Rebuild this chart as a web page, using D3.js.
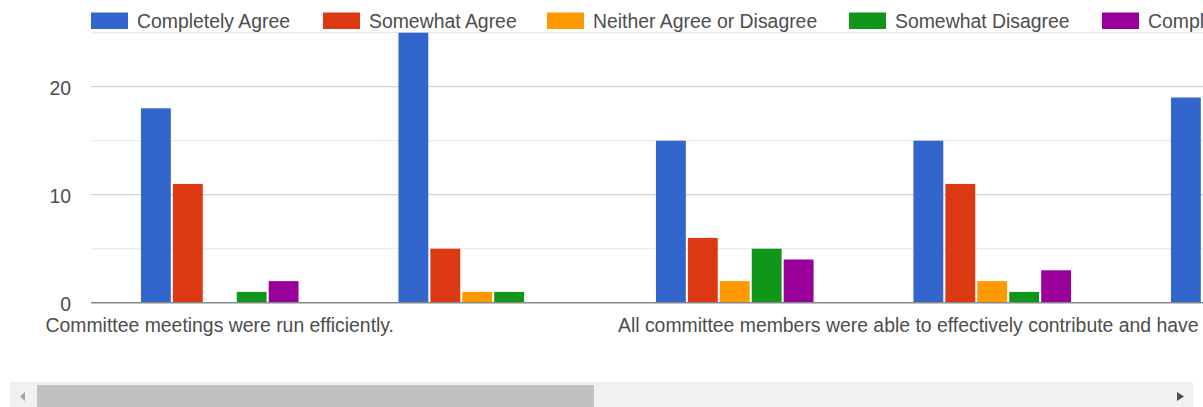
<!DOCTYPE html>
<html>
<head>
<meta charset="utf-8">
<script src="https://cdn.jsdelivr.net/npm/d3@7"></script>
<style>
  body { margin: 0; background: #fff; overflow: hidden; }
  svg { display: block; font-family: "Liberation Sans", Arial, Helvetica, sans-serif; }
</style>
</head>
<body>
<svg id="chart" width="1203" height="407"></svg>
<script>
// Survey statements (x categories); only every other one gets an axis label
const categories = [
  "Committee meetings were run efficiently.",
  "Statement 2",
  "All committee members were able to effectively contribute and have their voices heard.",
  "Statement 4",
  "Statement 5"
];
const labelledCategories = [categories[0], categories[2]];

// Response options and their colours
const seriesNames = ["Completely Agree", "Somewhat Agree", "Neither Agree or Disagree", "Somewhat Disagree", "Completely Disagree"];
const seriesColors = ["#3366cc", "#dc3912", "#ff9900", "#109618", "#990099"];

// Response counts per statement (null = scrolled out of view)
const completelyAgree    = [18, 25, 15, 15, 19];
const somewhatAgree      = [11, 5, 6, 11, null];
const neitherAgree       = [0, 1, 2, 2, null];
const somewhatDisagree   = [1, 1, 5, 1, null];
const completelyDisagree = [2, 0, 4, 3, null];

// Value axis
const yTickValues = [0, 10, 20];
const yMajorGrid = [10, 20];
const yMinorGrid = [5, 15, 25];

const seriesValues = [completelyAgree, somewhatAgree, neitherAgree, somewhatDisagree, completelyDisagree];

const FONT = 19.4;
const TEXT = "#4d4d4d";
const plotLeft = 91;
const groupStep = 257.5;

const svg = d3.select("#chart");

const x = d3.scaleBand()
  .domain(categories)
  .range([plotLeft, plotLeft + categories.length * groupStep])
  .paddingInner(0.388)
  .paddingOuter(0.194);

const xi = d3.scaleBand()
  .domain(seriesNames)
  .range([0, x.bandwidth()])
  .paddingInner(0.065);

const y = d3.scaleLinear().domain([0, 25]).range([302.7, 32.7]);

const color = d3.scaleOrdinal().domain(seriesNames).range(seriesColors);

// gridlines
const grid = svg.append("g");
grid.selectAll("line.minor").data(yMinorGrid).join("line")
  .attr("class", "minor")
  .attr("x1", plotLeft).attr("x2", 1203)
  .attr("y1", d => y(d)).attr("y2", d => y(d))
  .attr("stroke", "#ebebeb").attr("stroke-width", 1.2);
grid.selectAll("line.major").data(yMajorGrid).join("line")
  .attr("class", "major")
  .attr("x1", plotLeft).attr("x2", 1203)
  .attr("y1", d => y(d)).attr("y2", d => y(d))
  .attr("stroke", "#d4d4d4").attr("stroke-width", 1.2);

// bars
const rows = [];
categories.forEach((c, i) => {
  seriesNames.forEach((s, j) => {
    const v = seriesValues[j][i];
    if (v !== null && v > 0) rows.push({ c, s, v });
  });
});
svg.append("g").selectAll("rect").data(rows).join("rect")
  .attr("x", d => x(d.c) + xi(d.s))
  .attr("y", d => y(d.v))
  .attr("width", xi.bandwidth())
  .attr("height", d => y(0) - y(d.v))
  .attr("fill", d => color(d.s));

// baseline
svg.append("line")
  .attr("x1", plotLeft).attr("x2", 1203)
  .attr("y1", y(0)).attr("y2", y(0))
  .attr("stroke", "#888").attr("stroke-width", 1.5);

// y axis labels
const yAxis = svg.append("g")
  .attr("transform", `translate(${plotLeft},0)`)
  .call(d3.axisLeft(y).tickValues(yTickValues).tickSize(0).tickPadding(20));
yAxis.select(".domain").remove();
yAxis.selectAll("text")
  .attr("dy", "0.38em")
  .attr("fill", TEXT)
  .style("font-size", FONT + "px")
  .style("font-family", "inherit");

// x axis labels
const xAxis = svg.append("g")
  .attr("transform", `translate(0,${y(0)})`)
  .call(d3.axisBottom(x).tickValues(labelledCategories).tickSize(0).tickPadding(15.3));
xAxis.select(".domain").remove();
xAxis.selectAll("text")
  .attr("fill", TEXT)
  .style("font-size", FONT + "px")
  .style("font-family", "inherit")
  .each(function () {
    // labels longer than two groups start just left of their group instead of centring
    const w = this.getComputedTextLength();
    if (w > 2 * x.step()) {
      d3.select(this).attr("text-anchor", "start").attr("x", -x.bandwidth() / 2 - 38);
    }
  });

// legend: one swatch + label per series along the top
const legendX = [91, 323, 547, 849, 1102];
const legend = svg.append("g").selectAll("g").data(seriesNames).join("g")
  .attr("transform", (d, i) => `translate(${legendX[i]},0)`);
legend.append("rect")
  .attr("y", 12.5)
  .attr("width", 37).attr("height", 16.5)
  .attr("fill", d => color(d));
legend.append("text")
  .attr("x", 46).attr("y", 28)
  .attr("fill", TEXT)
  .style("font-size", FONT + "px")
  .text(d => d);

// horizontal scrollbar
const sb = svg.append("g");
sb.append("rect").attr("x", 10).attr("y", 382).attr("width", 1183).attr("height", 25).attr("fill", "#f1f1f1");
sb.append("rect").attr("x", 37).attr("y", 385).attr("width", 557).attr("height", 22).attr("fill", "#c1c1c1");
sb.append("path").attr("d", "M20,396.5 L25,392 L25,401 Z").attr("fill", "#a3a3a3");
sb.append("path").attr("d", "M1184,396.5 L1177,392 L1177,401 Z").attr("fill", "#505050");
</script>
</body>
</html>
